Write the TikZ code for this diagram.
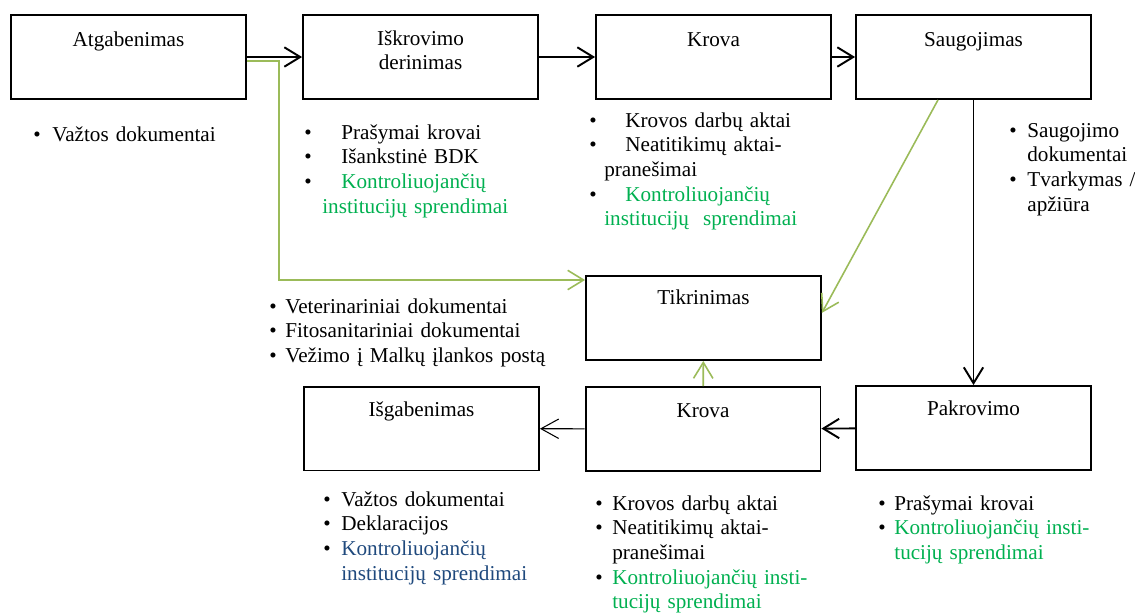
\documentclass[tikz,border=0pt]{standalone}
\usepackage{fontspec}
\setmainfont{Liberation Serif}
\usepackage{tikz}
\usetikzlibrary{calc}
\usetikzlibrary{arrows.meta}

\definecolor{linegreen}{HTML}{9BBB59}
\definecolor{textgreen}{HTML}{00B050}
\definecolor{textblue}{HTML}{1F497D}
\newdimen\pxu \pxu=0.567pt
\newcommand{\bul}[1]{\makebox[#1\pxu][l]{\textbullet}}
\newcommand{\ind}[1]{\hspace*{#1\pxu}}

\begin{document}
\begin{tikzpicture}[x=0.567pt,y=-0.567pt,
  every node/.style={font=\fontsize{12}{14}\selectfont},
  box/.style={draw,line width=1.1pt,minimum width=133.2pt,minimum height=47.6pt,inner sep=0pt},
  title/.style={anchor=base,align=center,text width=130pt,inner sep=0pt},
  doclist/.style={anchor=base west,align=left,text width=200pt,inner sep=0pt},
  flow/.style={line width=1.1pt,-{Straight Barb[length=9pt,width=11pt]}},
  thinflow/.style={line width=0.6pt,-{Straight Barb[length=10pt,width=11pt]}},
  chk/.style={linegreen,line width=0.9pt,-{Straight Barb[length=9pt,width=11pt]}}]

\useasboundingbox (0,0) rectangle (1135,614);

\node[box] (atg) at (128.5,57) {};
\node[box] (isk) at (420.5,57) {};
\node[box] (krv1) at (713.5,57) {};
\node[box] (saug) at (973.5,57) {};
\node[box] (tikr) at (703.5,318) {};
\node[box] (isg) at (421.5,428.5) {};
\node[box] (krv2) at (703,429) {};
\node[box] (pakr) at (973.5,428) {};

\node[title] (atg-t) at ($(atg.north)+(0,32)$) {Atgabenimas};
\node[title] (isk-t) at ($(isk.north)+(0,31)$) {Iškrovimo\\derinimas};
\node[title] (krv1-t) at ($(krv1.north)+(0,32)$) {Krova};
\node[title] (saug-t) at ($(saug.north)+(0,32)$) {Saugojimas};
\node[title] (tikr-t) at ($(tikr.north)+(0,29)$) {Tikrinimas};
\node[title] (isg-t) at ($(isg.north)+(0,31)$) {Išgabenimas};
\node[title] (krv2-t) at ($(krv2.north)+(0,31)$) {Krova};
\node[title] (pakr-t) at ($(pakr.north)+(0,30)$) {Pakrovimo};

\draw[flow] (atg) -- (isk);
\draw[flow] (isk) -- (krv1);
\draw[flow] (krv1) -- (saug);
\draw[flow] (saug) -- (pakr);
\draw[flow] (pakr) -- (krv2);
\draw[thinflow] (krv2) -- (isg);

\coordinate (bend) at (279,280);
\draw[chk] ($(atg.east)+(0,4)$) -| (bend) -- (bend -| tikr.west);
\draw[chk] ($(saug.south west)!0.35!(saug.south east)$) -- ($(tikr.north east)!0.44!(tikr.south east)$);
\draw[chk] (krv2) -- (tikr);

\node[doclist] (atg-d) at (33,141) {\bul{19}Važtos dokumentai};
\node[doclist] (isk-d) at (304,139) {\bul{37}Prašymai krovai\\
\bul{37}Išankstinė BDK\\
\bul{37}\textcolor{textgreen}{Kontroliuojančių}\\
\ind{18}\textcolor{textgreen}{institucijų sprendimai}};
\node[doclist] (krv1-d) at (589,127) {\bul{36}Krovos darbų aktai\\
\bul{36}Neatitikimų aktai-\\
\ind{15}pranešimai\\
\bul{36}\textcolor{textgreen}{Kontroliuojančių}\\
\ind{15}\textcolor{textgreen}{institucijų\ \ sprendimai}};
\node[doclist] (saug-d) at (1009,137) {\bul{18}Saugojimo\\
\ind{18}dokumentai\\
\bul{18}Tvarkymas /\\
\ind{18}apžiūra};
\node[doclist] (tikr-d) at (269,313) {\bul{16}Veterinariniai dokumentai\\
\bul{16}Fitosanitariniai dokumentai\\
\bul{16}Vežimo į Malkų įlankos postą};
\node[doclist] (isg-d) at (323,506) {\bul{18}Važtos dokumentai\\
\bul{18}Deklaracijos\\
\bul{18}\textcolor{textblue}{Kontroliuojančių}\\
\ind{18}\textcolor{textblue}{institucijų sprendimai}};
\node[doclist] (krv2-d) at (595,510) {\bul{17}Krovos darbų aktai\\
\bul{17}Neatitikimų aktai-\\
\ind{17}pranešimai\\
\bul{17}\textcolor{textgreen}{Kontroliuojančių insti-}\\
\ind{17}\textcolor{textgreen}{tucijų sprendimai}};
\node[doclist] (pakr-d) at (878,510) {\bul{16}Prašymai krovai\\
\bul{16}\textcolor{textgreen}{Kontroliuojančių insti-}\\
\ind{16}\textcolor{textgreen}{tucijų sprendimai}};
\end{tikzpicture}
\end{document}
